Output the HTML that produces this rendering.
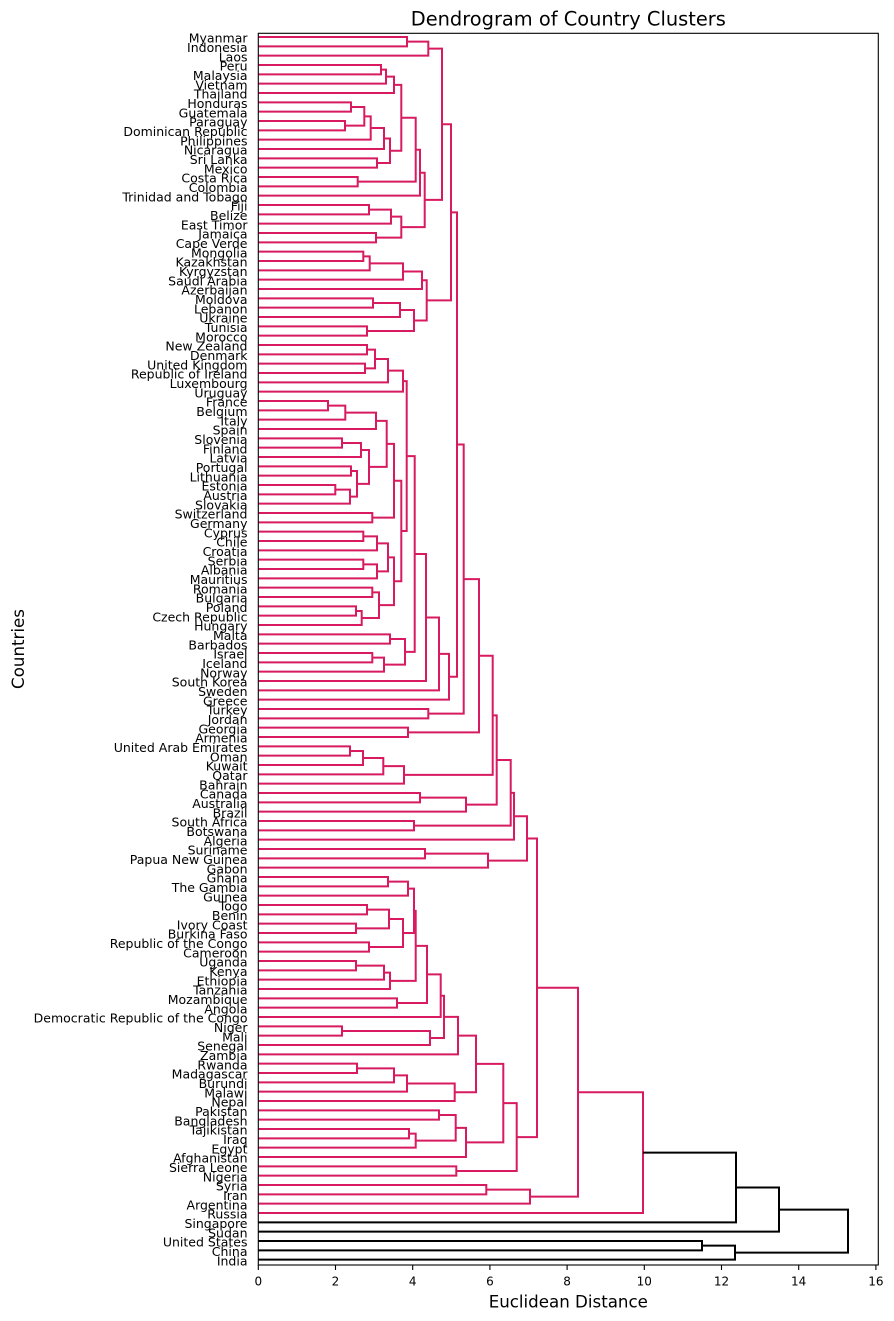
<!DOCTYPE html>
<html>
<head>
<meta charset="utf-8">
<style>
  html, body { margin: 0; padding: 0; background: #ffffff; }
  body { width: 894px; height: 1321px; overflow: hidden; }
  svg { display: block; }
  text { font-family: "DejaVu Sans", "Liberation Sans", sans-serif; fill: #000; }
</style>
</head>
<body>
<svg width="894" height="1321" viewBox="0 0 894 1321" xmlns="http://www.w3.org/2000/svg">
  <rect x="0" y="0" width="894" height="1321" fill="#ffffff"/>

  <!-- Title -->
  <text x="568.3" y="25.3" text-anchor="middle" font-size="19.4px">Dendrogram of Country Clusters</text>

  <!-- Pink links -->
  <g fill="none" stroke="#d81b60" stroke-width="2" stroke-linecap="butt" stroke-linejoin="miter">
    <path d="M258.3 37 H407 V46.33 H258.3"/>
    <path d="M407 41.67 H428.3 V55.67 H258.3"/>
    <path d="M258.3 65 H381 V74.33 H258.3"/>
    <path d="M381 69.67 H386 V83.67 H258.3"/>
    <path d="M386 76.67 H394 V93 H258.3"/>
    <path d="M258.3 102.33 H351 V111.67 H258.3"/>
    <path d="M258.3 121 H345 V130.33 H258.3"/>
    <path d="M351 107 H364.3 V125.67 H345"/>
    <path d="M364.3 116.33 H370.7 V139.67 H258.3"/>
    <path d="M370.7 128 H384 V149 H258.3"/>
    <path d="M258.3 158.33 H377 V167.67 H258.3"/>
    <path d="M384 138.5 H390 V163 H377"/>
    <path d="M394 84.83 H401.3 V150.75 H390"/>
    <path d="M258.3 177 H357.7 V186.33 H258.3"/>
    <path d="M401.3 117.79 H415.7 V181.67 H357.7"/>
    <path d="M415.7 149.73 H420 V195.67 H258.3"/>
    <path d="M258.3 205 H369 V214.33 H258.3"/>
    <path d="M369 209.67 H391 V223.67 H258.3"/>
    <path d="M258.3 233 H376 V242.33 H258.3"/>
    <path d="M391 216.67 H401.3 V237.67 H376"/>
    <path d="M420 172.7 H424.7 V227.17 H401.3"/>
    <path d="M428.3 48.67 H442 V199.93 H424.7"/>
    <path d="M258.3 251.67 H363.3 V261 H258.3"/>
    <path d="M363.3 256.33 H369.7 V270.33 H258.3"/>
    <path d="M369.7 263.33 H403 V279.67 H258.3"/>
    <path d="M403 271.5 H422 V289 H258.3"/>
    <path d="M258.3 298.33 H373 V307.67 H258.3"/>
    <path d="M373 303 H400 V317 H258.3"/>
    <path d="M258.3 326.33 H367 V335.67 H258.3"/>
    <path d="M400 310 H414 V331 H367"/>
    <path d="M422 280.25 H426.7 V320.5 H414"/>
    <path d="M442 124.3 H451 V300.38 H426.7"/>
    <path d="M258.3 345 H367 V354.33 H258.3"/>
    <path d="M258.3 363.67 H365 V373 H258.3"/>
    <path d="M367 349.67 H375 V368.33 H365"/>
    <path d="M375 359 H388 V382.33 H258.3"/>
    <path d="M388 370.67 H403 V391.67 H258.3"/>
    <path d="M258.3 401 H328 V410.33 H258.3"/>
    <path d="M328 405.67 H345.3 V419.67 H258.3"/>
    <path d="M345.3 412.67 H376 V429 H258.3"/>
    <path d="M258.3 438.33 H342 V447.67 H258.3"/>
    <path d="M342 443 H361 V457 H258.3"/>
    <path d="M258.3 466.33 H351 V475.67 H258.3"/>
    <path d="M258.3 485 H335.3 V494.33 H258.3"/>
    <path d="M335.3 489.67 H350 V503.67 H258.3"/>
    <path d="M351 471 H357 V496.67 H350"/>
    <path d="M361 450 H369 V483.83 H357"/>
    <path d="M376 420.83 H386.7 V466.92 H369"/>
    <path d="M258.3 513 H372.3 V522.33 H258.3"/>
    <path d="M386.7 443.88 H394 V517.67 H372.3"/>
    <path d="M258.3 531.67 H363.3 V541 H258.3"/>
    <path d="M363.3 536.33 H377 V550.33 H258.3"/>
    <path d="M258.3 559.67 H363.3 V569 H258.3"/>
    <path d="M363.3 564.33 H377 V578.33 H258.3"/>
    <path d="M377 543.33 H388 V571.33 H377"/>
    <path d="M258.3 587.67 H372.3 V597 H258.3"/>
    <path d="M258.3 606.33 H356 V615.67 H258.3"/>
    <path d="M356 611 H361.7 V625 H258.3"/>
    <path d="M372.3 592.33 H379 V618 H361.7"/>
    <path d="M388 557.33 H394 V605.17 H379"/>
    <path d="M394 480.77 H401.3 V581.25 H394"/>
    <path d="M403 381.17 H406.7 V531.01 H401.3"/>
    <path d="M258.3 634.33 H390 V643.67 H258.3"/>
    <path d="M258.3 653 H372.3 V662.33 H258.3"/>
    <path d="M372.3 657.67 H384 V671.67 H258.3"/>
    <path d="M390 639 H405 V664.67 H384"/>
    <path d="M406.7 456.09 H414.7 V651.83 H405"/>
    <path d="M414.7 553.96 H426 V681 H258.3"/>
    <path d="M426 617.48 H439 V690.33 H258.3"/>
    <path d="M439 653.9 H449 V699.67 H258.3"/>
    <path d="M451 212.34 H457 V676.79 H449"/>
    <path d="M258.3 709 H428.3 V718.33 H258.3"/>
    <path d="M457 444.56 H463.7 V713.67 H428.3"/>
    <path d="M258.3 727.67 H408 V737 H258.3"/>
    <path d="M463.7 579.11 H479 V732.33 H408"/>
    <path d="M258.3 746.33 H350 V755.67 H258.3"/>
    <path d="M350 751 H363 V765 H258.3"/>
    <path d="M363 758 H383.3 V774.33 H258.3"/>
    <path d="M383.3 766.17 H404 V783.67 H258.3"/>
    <path d="M479 655.72 H492.7 V774.92 H404"/>
    <path d="M258.3 793 H420 V802.33 H258.3"/>
    <path d="M420 797.67 H466 V811.67 H258.3"/>
    <path d="M492.7 715.32 H496.7 V804.67 H466"/>
    <path d="M258.3 821 H414 V830.33 H258.3"/>
    <path d="M496.7 760 H510.7 V825.67 H414"/>
    <path d="M510.7 792.83 H514 V839.67 H258.3"/>
    <path d="M258.3 849 H425 V858.33 H258.3"/>
    <path d="M425 853.67 H488 V867.67 H258.3"/>
    <path d="M514 816.25 H527 V860.67 H488"/>
    <path d="M258.3 877 H388 V886.33 H258.3"/>
    <path d="M388 881.67 H408 V895.67 H258.3"/>
    <path d="M258.3 905 H367 V914.33 H258.3"/>
    <path d="M258.3 923.67 H356 V933 H258.3"/>
    <path d="M367 909.67 H389 V928.33 H356"/>
    <path d="M258.3 942.33 H369 V951.67 H258.3"/>
    <path d="M389 919 H403 V947 H369"/>
    <path d="M408 888.67 H414 V933 H403"/>
    <path d="M258.3 961 H356 V970.33 H258.3"/>
    <path d="M356 965.67 H384 V979.67 H258.3"/>
    <path d="M384 972.67 H390 V989 H258.3"/>
    <path d="M414 910.83 H415.7 V980.83 H390"/>
    <path d="M258.3 998.33 H397 V1007.67 H258.3"/>
    <path d="M415.7 945.83 H427 V1003 H397"/>
    <path d="M427 974.42 H440.7 V1017 H258.3"/>
    <path d="M258.3 1026.33 H342 V1035.67 H258.3"/>
    <path d="M342 1031 H430 V1045 H258.3"/>
    <path d="M440.7 995.71 H444 V1038 H430"/>
    <path d="M444 1016.85 H458 V1054.33 H258.3"/>
    <path d="M258.3 1063.67 H357 V1073 H258.3"/>
    <path d="M357 1068.33 H394 V1082.33 H258.3"/>
    <path d="M394 1075.33 H407 V1091.67 H258.3"/>
    <path d="M407 1083.5 H454.7 V1101 H258.3"/>
    <path d="M458 1035.59 H476 V1092.25 H454.7"/>
    <path d="M258.3 1110.33 H439 V1119.67 H258.3"/>
    <path d="M258.3 1129 H409 V1138.33 H258.3"/>
    <path d="M409 1133.67 H415.7 V1147.67 H258.3"/>
    <path d="M439 1115 H455.7 V1140.67 H415.7"/>
    <path d="M455.7 1127.83 H466 V1157 H258.3"/>
    <path d="M476 1063.92 H503.3 V1142.42 H466"/>
    <path d="M258.3 1166.33 H456.3 V1175.67 H258.3"/>
    <path d="M503.3 1103.17 H516.7 V1171 H456.3"/>
    <path d="M527 838.46 H537 V1137.08 H516.7"/>
    <path d="M258.3 1185 H486.3 V1194.33 H258.3"/>
    <path d="M486.3 1189.67 H530 V1203.67 H258.3"/>
    <path d="M537 987.77 H578 V1196.67 H530"/>
    <path d="M578 1092.22 H643 V1213 H258.3"/>
  </g>

  <!-- Black links (above threshold) -->
  <g fill="none" stroke="#000000" stroke-width="2" stroke-linecap="butt" stroke-linejoin="miter">
    <path d="M643 1152.61 H736 V1222.33 H258.3"/>
    <path d="M736 1187.47 H779 V1231.67 H258.3"/>
    <path d="M258.3 1241 H702 V1250.33 H258.3"/>
    <path d="M702 1245.67 H735 V1259.67 H258.3"/>
    <path d="M779 1209.57 H848 V1252.67 H735"/>
  </g>

  <!-- Axes frame -->
  <rect x="258.3" y="33.3" width="620" height="1231.7" fill="none" stroke="#000" stroke-width="1.1"/>

  <!-- X ticks -->
  <g stroke="#000" stroke-width="1.1">
    <line x1="258.3" y1="1265" x2="258.3" y2="1270"/>
    <line x1="335.5" y1="1265" x2="335.5" y2="1270"/>
    <line x1="412.7" y1="1265" x2="412.7" y2="1270"/>
    <line x1="489.9" y1="1265" x2="489.9" y2="1270"/>
    <line x1="567.1" y1="1265" x2="567.1" y2="1270"/>
    <line x1="644.3" y1="1265" x2="644.3" y2="1270"/>
    <line x1="721.5" y1="1265" x2="721.5" y2="1270"/>
    <line x1="798.7" y1="1265" x2="798.7" y2="1270"/>
    <line x1="875.9" y1="1265" x2="875.9" y2="1270"/>
  </g>
  <g font-size="12px" text-anchor="middle">
    <text x="258.3" y="1285.5">0</text>
    <text x="335.5" y="1285.5">2</text>
    <text x="412.7" y="1285.5">4</text>
    <text x="489.9" y="1285.5">6</text>
    <text x="567.1" y="1285.5">8</text>
    <text x="644.3" y="1285.5">10</text>
    <text x="721.5" y="1285.5">12</text>
    <text x="798.7" y="1285.5">14</text>
    <text x="875.9" y="1285.5">16</text>
  </g>

  <!-- Axis labels -->
  <text x="568.3" y="1307.7" text-anchor="middle" font-size="16.67px">Euclidean Distance</text>
  <text transform="translate(24,649) rotate(-90)" text-anchor="middle" font-size="16.67px">Countries</text>

  <!-- Leaf labels -->
  <g font-size="12.5px" text-anchor="end">
    <text x="247.5" y="42.6">Myanmar</text>
    <text x="247.5" y="51.93">Indonesia</text>
    <text x="247.5" y="61.27">Laos</text>
    <text x="247.5" y="70.6">Peru</text>
    <text x="247.5" y="79.93">Malaysia</text>
    <text x="247.5" y="89.27">Vietnam</text>
    <text x="247.5" y="98.6">Thailand</text>
    <text x="247.5" y="107.93">Honduras</text>
    <text x="247.5" y="117.27">Guatemala</text>
    <text x="247.5" y="126.6">Paraguay</text>
    <text x="247.5" y="135.93">Dominican Republic</text>
    <text x="247.5" y="145.27">Philippines</text>
    <text x="247.5" y="154.6">Nicaragua</text>
    <text x="247.5" y="163.93">Sri Lanka</text>
    <text x="247.5" y="173.27">Mexico</text>
    <text x="247.5" y="182.6">Costa Rica</text>
    <text x="247.5" y="191.93">Colombia</text>
    <text x="247.5" y="201.27">Trinidad and Tobago</text>
    <text x="247.5" y="210.6">Fiji</text>
    <text x="247.5" y="219.93">Belize</text>
    <text x="247.5" y="229.27">East Timor</text>
    <text x="247.5" y="238.6">Jamaica</text>
    <text x="247.5" y="247.93">Cape Verde</text>
    <text x="247.5" y="257.27">Mongolia</text>
    <text x="247.5" y="266.6">Kazakhstan</text>
    <text x="247.5" y="275.93">Kyrgyzstan</text>
    <text x="247.5" y="285.27">Saudi Arabia</text>
    <text x="247.5" y="294.6">Azerbaijan</text>
    <text x="247.5" y="303.93">Moldova</text>
    <text x="247.5" y="313.27">Lebanon</text>
    <text x="247.5" y="322.6">Ukraine</text>
    <text x="247.5" y="331.93">Tunisia</text>
    <text x="247.5" y="341.27">Morocco</text>
    <text x="247.5" y="350.6">New Zealand</text>
    <text x="247.5" y="359.93">Denmark</text>
    <text x="247.5" y="369.27">United Kingdom</text>
    <text x="247.5" y="378.6">Republic of Ireland</text>
    <text x="247.5" y="387.93">Luxembourg</text>
    <text x="247.5" y="397.27">Uruguay</text>
    <text x="247.5" y="406.6">France</text>
    <text x="247.5" y="415.93">Belgium</text>
    <text x="247.5" y="425.27">Italy</text>
    <text x="247.5" y="434.6">Spain</text>
    <text x="247.5" y="443.93">Slovenia</text>
    <text x="247.5" y="453.27">Finland</text>
    <text x="247.5" y="462.6">Latvia</text>
    <text x="247.5" y="471.93">Portugal</text>
    <text x="247.5" y="481.27">Lithuania</text>
    <text x="247.5" y="490.6">Estonia</text>
    <text x="247.5" y="499.93">Austria</text>
    <text x="247.5" y="509.27">Slovakia</text>
    <text x="247.5" y="518.6">Switzerland</text>
    <text x="247.5" y="527.93">Germany</text>
    <text x="247.5" y="537.27">Cyprus</text>
    <text x="247.5" y="546.6">Chile</text>
    <text x="247.5" y="555.93">Croatia</text>
    <text x="247.5" y="565.27">Serbia</text>
    <text x="247.5" y="574.6">Albania</text>
    <text x="247.5" y="583.93">Mauritius</text>
    <text x="247.5" y="593.27">Romania</text>
    <text x="247.5" y="602.6">Bulgaria</text>
    <text x="247.5" y="611.93">Poland</text>
    <text x="247.5" y="621.27">Czech Republic</text>
    <text x="247.5" y="630.6">Hungary</text>
    <text x="247.5" y="639.93">Malta</text>
    <text x="247.5" y="649.27">Barbados</text>
    <text x="247.5" y="658.6">Israel</text>
    <text x="247.5" y="667.93">Iceland</text>
    <text x="247.5" y="677.27">Norway</text>
    <text x="247.5" y="686.6">South Korea</text>
    <text x="247.5" y="695.93">Sweden</text>
    <text x="247.5" y="705.27">Greece</text>
    <text x="247.5" y="714.6">Turkey</text>
    <text x="247.5" y="723.93">Jordan</text>
    <text x="247.5" y="733.27">Georgia</text>
    <text x="247.5" y="742.6">Armenia</text>
    <text x="247.5" y="751.93">United Arab Emirates</text>
    <text x="247.5" y="761.27">Oman</text>
    <text x="247.5" y="770.6">Kuwait</text>
    <text x="247.5" y="779.93">Qatar</text>
    <text x="247.5" y="789.27">Bahrain</text>
    <text x="247.5" y="798.6">Canada</text>
    <text x="247.5" y="807.93">Australia</text>
    <text x="247.5" y="817.27">Brazil</text>
    <text x="247.5" y="826.6">South Africa</text>
    <text x="247.5" y="835.93">Botswana</text>
    <text x="247.5" y="845.27">Algeria</text>
    <text x="247.5" y="854.6">Suriname</text>
    <text x="247.5" y="863.93">Papua New Guinea</text>
    <text x="247.5" y="873.27">Gabon</text>
    <text x="247.5" y="882.6">Ghana</text>
    <text x="247.5" y="891.93">The Gambia</text>
    <text x="247.5" y="901.27">Guinea</text>
    <text x="247.5" y="910.6">Togo</text>
    <text x="247.5" y="919.93">Benin</text>
    <text x="247.5" y="929.27">Ivory Coast</text>
    <text x="247.5" y="938.6">Burkina Faso</text>
    <text x="247.5" y="947.93">Republic of the Congo</text>
    <text x="247.5" y="957.27">Cameroon</text>
    <text x="247.5" y="966.6">Uganda</text>
    <text x="247.5" y="975.93">Kenya</text>
    <text x="247.5" y="985.27">Ethiopia</text>
    <text x="247.5" y="994.6">Tanzania</text>
    <text x="247.5" y="1003.93">Mozambique</text>
    <text x="247.5" y="1013.27">Angola</text>
    <text x="247.5" y="1022.6">Democratic Republic of the Congo</text>
    <text x="247.5" y="1031.93">Niger</text>
    <text x="247.5" y="1041.27">Mali</text>
    <text x="247.5" y="1050.6">Senegal</text>
    <text x="247.5" y="1059.93">Zambia</text>
    <text x="247.5" y="1069.27">Rwanda</text>
    <text x="247.5" y="1078.6">Madagascar</text>
    <text x="247.5" y="1087.93">Burundi</text>
    <text x="247.5" y="1097.27">Malawi</text>
    <text x="247.5" y="1106.6">Nepal</text>
    <text x="247.5" y="1115.93">Pakistan</text>
    <text x="247.5" y="1125.27">Bangladesh</text>
    <text x="247.5" y="1134.6">Tajikistan</text>
    <text x="247.5" y="1143.93">Iraq</text>
    <text x="247.5" y="1153.27">Egypt</text>
    <text x="247.5" y="1162.6">Afghanistan</text>
    <text x="247.5" y="1171.93">Sierra Leone</text>
    <text x="247.5" y="1181.27">Nigeria</text>
    <text x="247.5" y="1190.6">Syria</text>
    <text x="247.5" y="1199.93">Iran</text>
    <text x="247.5" y="1209.27">Argentina</text>
    <text x="247.5" y="1218.6">Russia</text>
    <text x="247.5" y="1227.93">Singapore</text>
    <text x="247.5" y="1237.27">Sudan</text>
    <text x="247.5" y="1246.6">United States</text>
    <text x="247.5" y="1255.93">China</text>
    <text x="247.5" y="1265.27">India</text>
  </g>
</svg>
</body>
</html>
